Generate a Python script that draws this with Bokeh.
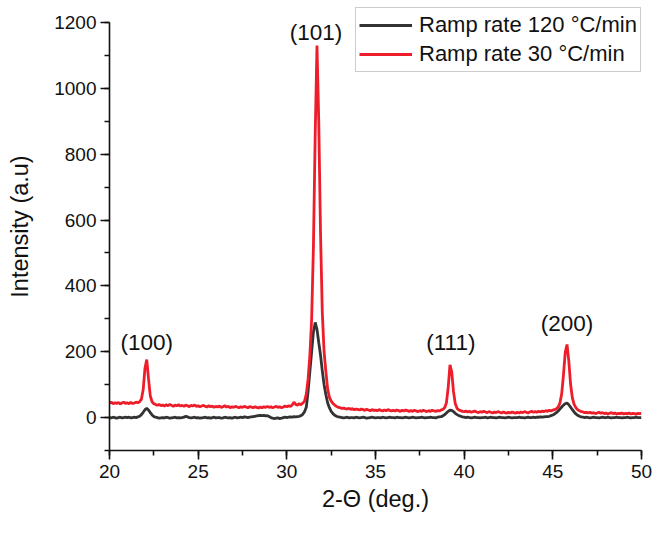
from bokeh.plotting import figure
from bokeh.models import (ColumnDataSource, Legend, LegendItem,
                          SingleIntervalTicker, Range1d)
from bokeh.core.properties import value
from bokeh.embed import file_html
from bokeh.resources import INLINE

# ---- data ----
two_theta = [round(20 + 0.1 * i, 1) for i in range(301)]  # 20.0 ... 50.0 sampling grid

ramp_120 = [
    0, -1, 1, 0, -2, 0, 1, -1, 0, 1,            # 20
    0, 1, -1, 0, 1, 0, 2, 4, 9, 16,             # 21
    24, 28, 23, 15, 8, 3, 1, 0, -2, -1,         # 22
    0, -1, 1, 0, -2, -1, 0, 1, -1, 0,           # 23
    -1, 0, 1, 4, 2, 0, -1, 0, 1, -1,            # 24
    0, -2, -1, 0, 1, -1, 0, -2, 0, 1,           # 25
    -1, 0, 0, -2, -1, 1, 0, -1, 0, -2,          # 26
    0, 1, -1, 0, 1, 0, 2, 1, 0, 1,              # 27
    2, 3, 4, 5, 6, 7, 6, 7, 5, 6,               # 28
    3, 0, -2, -3, -2, -1, -3, -2, 0, 1,         # 29
    0, 1, 2, 1, 3, 2, 3, 4, 6, 10,              # 30
    18, 32, 80, 140, 200, 260, 289, 268, 228, 190,  # 31
    142, 100, 70, 45, 30, 19, 12, 7, 4, 2,      # 32
    1, 0, -1, 0, 1, -1, 0, 0, -1, 1,            # 33
    0, -1, 0, 1, 0, -2, -1, 0, 1, 0,            # 34
    -1, 0, 0, -1, 1, 0, -1, 0, 1, 0,            # 35
    0, -1, 1, 0, 0, -1, 0, 1, 0, -1,            # 36
    0, 1, 0, -1, 0, 0, 1, 0, -1, 0,             # 37
    0, 1, 0, 0, -1, 1, 2, 3, 5, 9,              # 38
    14, 19, 23, 22, 18, 13, 9, 6, 4, 2,         # 39
    1, 0, 1, 0, -1, 0, 1, 0, 0, -1,             # 40
    0, 0, 1, -1, 0, 1, 0, 0, -1, 0,             # 41
    1, 0, 0, -1, 0, 1, 0, -1, 0, 0,             # 42
    0, 1, 0, 0, -1, 0, 1, 0, 0, 1,              # 43
    0, 1, 1, 2, 1, 2, 3, 3, 4, 6,               # 44
    8, 11, 15, 20, 26, 32, 38, 42, 44, 39,      # 45
    32, 24, 17, 11, 7, 4, 2, 1, 0, 1,           # 46
    0, -1, 0, 1, 0, 0, -1, 0, 1, 0,             # 47
    0, 1, 0, -1, 0, 0, 1, 0, 0, -1,             # 48
    0, 0, 1, 0, -1, 0, 0, 1, 0, 0,              # 49
    0,                                          # 50
]

ramp_30 = [
    44, 47, 42, 45, 43, 46, 41, 44, 47, 43,     # 20
    45, 42, 46, 43, 44, 47, 45, 48, 56, 85,     # 21
    150, 176, 118, 66, 48, 42, 40, 37, 40, 36,  # 22
    38, 35, 39, 36, 40, 37, 34, 38, 36, 39,     # 23
    35, 37, 34, 38, 36, 33, 37, 35, 38, 34,     # 24
    36, 33, 35, 37, 34, 32, 36, 33, 35, 31,     # 25
    34, 32, 35, 31, 33, 36, 32, 34, 30, 33,     # 26
    31, 34, 32, 30, 33, 31, 34, 32, 30, 33,     # 27
    32, 30, 33, 31, 29, 32, 30, 33, 31, 34,     # 28
    31, 33, 30, 32, 34, 31, 33, 30, 32, 35,     # 29
    33, 36, 34, 38, 47, 40, 38, 42, 39, 44,     # 30
    50, 72, 118, 190, 300, 520, 860, 1130, 900, 560,  # 31
    320, 200, 140, 88, 62, 50, 43, 38, 34, 31,  # 32
    30, 28, 29, 27, 26, 28, 25, 27, 24, 26,     # 33
    25, 23, 26, 24, 22, 25, 23, 21, 24, 22,     # 34
    23, 21, 24, 22, 20, 23, 21, 24, 22, 20,     # 35
    22, 20, 23, 21, 19, 22, 20, 23, 21, 19,     # 36
    21, 19, 22, 20, 18, 21, 19, 22, 20, 18,     # 37
    21, 19, 22, 20, 19, 21, 20, 23, 25, 30,     # 38
    45, 92, 160, 138, 78, 42, 28, 23, 21, 19,   # 39
    18, 20, 17, 19, 16, 18, 20, 17, 15, 18,     # 40
    16, 19, 17, 15, 18, 16, 14, 17, 15, 18,     # 41
    16, 14, 17, 15, 13, 16, 14, 17, 15, 13,     # 42
    16, 14, 17, 15, 18, 16, 14, 17, 19, 16,     # 43
    18, 16, 19, 17, 20, 18, 21, 19, 22, 20,     # 44
    23, 24, 27, 32, 44, 72, 130, 198, 222, 172, # 45
    102, 60, 40, 30, 24, 21, 18, 17, 15, 16,    # 46
    14, 16, 13, 15, 12, 14, 16, 13, 15, 12,     # 47
    14, 11, 13, 15, 12, 14, 11, 13, 12, 14,     # 48
    11, 13, 12, 14, 11, 13, 12, 10, 13, 12,     # 49
    13,                                         # 50
]

peak_labels = ["(100)", "(101)", "(111)", "(200)"]
peak_x = [22.1, 31.65, 39.25, 45.8]
peak_label_y = [229, 1170, 229, 285]

series_names = ["Ramp rate 120 °C/min", "Ramp rate 30 °C/min"]

# ---- figure ----
FONT = "Liberation Sans"

p = figure(width=652, height=518, output_backend="svg", toolbar_location=None,
           x_range=Range1d(20, 50), y_range=Range1d(-100, 1260.7),
           min_border_left=109, min_border_right=11,
           min_border_top=2, min_border_bottom=68)
p.outline_line_color = None
p.grid.visible = False
p.background_fill_color = "white"
p.border_fill_color = "white"

src = ColumnDataSource(dict(x=two_theta, b=ramp_120, r=ramp_30))
r_black = p.line("x", "b", source=src, line_color="#333333", line_width=2.8)
r_red = p.line("x", "r", source=src, line_color="#ee1d2a", line_width=2.8)

lsrc = ColumnDataSource(dict(x=peak_x, y=peak_label_y, t=peak_labels))
p.text("x", "y", text="t", source=lsrc, text_align="center",
       text_baseline="middle", text_font=value(FONT),
       text_font_size="22.5px", text_color="#111111")

# axes
p.xaxis.ticker = SingleIntervalTicker(interval=5, num_minor_ticks=2)
p.yaxis.ticker = SingleIntervalTicker(interval=200, num_minor_ticks=2)
p.yaxis.bounds = (-100, 1200)
p.xaxis.axis_label = "2-Θ (deg.)"
p.yaxis.axis_label = "Intensity (a.u)"
for ax in (p.xaxis, p.yaxis):
    ax.axis_line_color = "#111111"
    ax.axis_line_width = 1.6
    ax.major_tick_line_color = "#111111"
    ax.minor_tick_line_color = "#111111"
    ax.major_tick_line_width = 1.6
    ax.minor_tick_line_width = 1.6
    ax.major_tick_out = 9
    ax.major_tick_in = 0
    ax.minor_tick_out = 5
    ax.minor_tick_in = 0
    ax.major_label_text_font = FONT
    ax.major_label_text_font_size = "19px"
    ax.major_label_text_color = "#111111"
    ax.axis_label_text_font = FONT
    ax.axis_label_text_font_size = "23.5px"
    ax.axis_label_text_font_style = "normal"
    ax.axis_label_text_color = "#111111"
p.xaxis.major_label_standoff = 5
p.xaxis.axis_label_standoff = 5
p.yaxis.major_label_standoff = 4
p.yaxis.axis_label_standoff = 18

legend = Legend(items=[LegendItem(label=series_names[0], renderers=[r_black]),
                       LegendItem(label=series_names[1], renderers=[r_red])],
                location=(246, 378))
legend.margin = 0
legend.padding = 3
legend.spacing = 1
legend.glyph_width = 53
legend.glyph_height = 28
legend.label_height = 28
legend.label_standoff = 7
legend.label_text_font = FONT
legend.label_text_font_size = "22px"
legend.label_text_color = "#111111"
legend.border_line_color = "#9a9a9a"
legend.border_line_width = 1.2
legend.background_fill_alpha = 1.0
p.add_layout(legend, "center")

open("out.html", "w").write(file_html(p, INLINE))
